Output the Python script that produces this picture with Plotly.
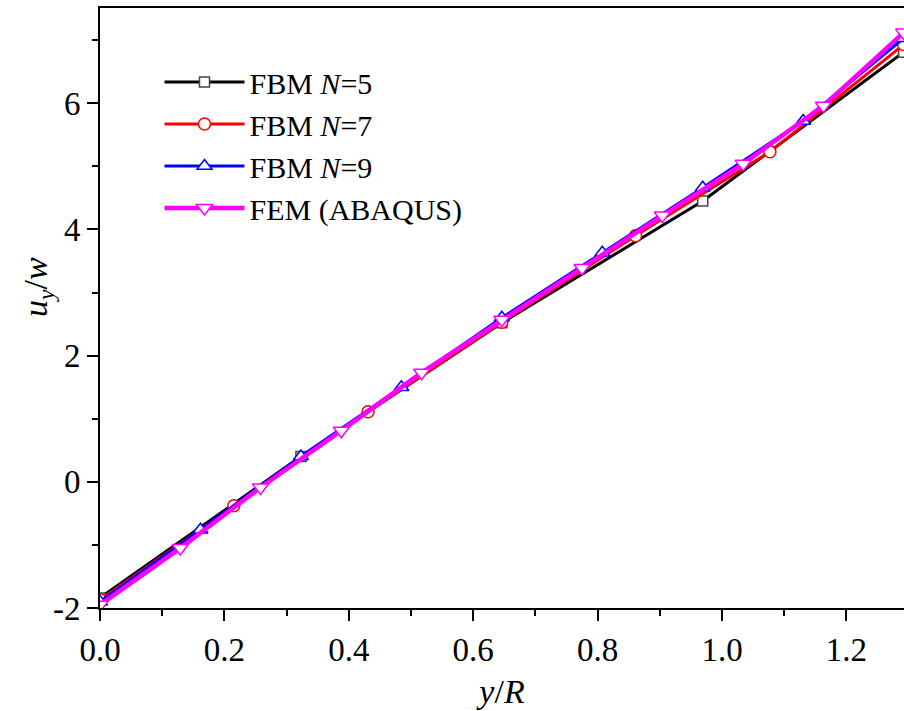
import plotly.graph_objects as go

# Data (y/R, u_y/w)
x_n5 = [0.0, 0.323, 0.646, 0.969, 1.292]
y_n5 = [-1.84, 0.40, 2.52, 4.45, 6.81]

x_n7 = [0.0, 0.215, 0.431, 0.646, 0.861, 1.077, 1.292]
y_n7 = [-1.87, -0.38, 1.11, 2.53, 3.90, 5.23, 6.93]

x_n9 = [0.0, 0.1615, 0.323, 0.4845, 0.646, 0.8075, 0.969, 1.1305, 1.292]
y_n9 = [-1.90, -0.76, 0.40, 1.50, 2.60, 3.63, 4.66, 5.72, 7.03]

x_fem = [0.0, 0.129, 0.258, 0.388, 0.517, 0.646, 0.775, 0.904, 1.034, 1.163, 1.292]
y_fem = [-1.95, -1.05, -0.09, 0.81, 1.73, 2.57, 3.39, 4.22, 5.04, 5.96, 7.12]

names = ["FBM <i>N</i>=5", "FBM <i>N</i>=7", "FBM <i>N</i>=9", "FEM (ABAQUS)"]

x_tickvals = [0.0, 0.2, 0.4, 0.6, 0.8, 1.0, 1.2]
x_ticktext = ["0.0", "0.2", "0.4", "0.6", "0.8", "1.0", "1.2"]
y_tickvals = [-2, 0, 2, 4, 6]
y_ticktext = ["-2", "0", "2", "4", "6"]

FONT = "Liberation Serif"

fig = go.Figure()

fig.add_trace(go.Scatter(
    x=x_n5, y=y_n5, name=names[0], mode="lines+markers",
    line=dict(color="black", width=3),
    marker=dict(symbol="square", size=10, color="white",
                line=dict(color="#444444", width=1.5)),
))
fig.add_trace(go.Scatter(
    x=x_n7, y=y_n7, name=names[1], mode="lines+markers",
    line=dict(color="#ff0000", width=3),
    marker=dict(symbol="circle", size=12, color="white",
                line=dict(color="#ff0000", width=1.5)),
))
fig.add_trace(go.Scatter(
    x=x_n9, y=y_n9, name=names[2], mode="lines+markers",
    line=dict(color="#0000ff", width=3),
    marker=dict(symbol="triangle-up", size=13, color="white",
                line=dict(color="#0000ff", width=1.5)),
))
fig.add_trace(go.Scatter(
    x=x_fem, y=y_fem, name=names[3], mode="lines+markers",
    line=dict(color="#ff00ff", width=4.5),
    marker=dict(symbol="triangle-down", size=14, color="white",
                line=dict(color="#ff00ff", width=1.5)),
))

fig.update_layout(
    width=904, height=711,
    margin=dict(l=100, r=0, t=8, b=103, autoexpand=False),
    paper_bgcolor="white", plot_bgcolor="white",
    font=dict(family=FONT, size=30, color="black"),
    showlegend=True,
    legend=dict(
        x=0.074, y=0.92, xanchor="left", yanchor="top",
        bgcolor="rgba(0,0,0,0)", borderwidth=0,
        font=dict(family=FONT, size=30, color="black"),
        itemwidth=80, tracegroupgap=0,
    ),
    xaxis=dict(
        range=[0.0, 1.2926], showgrid=False, zeroline=False, automargin=False,
        showline=True, linecolor="black", linewidth=2, mirror=True,
        ticks="outside", ticklen=11, tickwidth=2, tickcolor="black",
        tickvals=x_tickvals, ticktext=x_ticktext,
        tickfont=dict(family=FONT, size=33),
        minor=dict(ticks="outside", ticklen=6, tickwidth=2, dtick=0.1, tick0=0, tickcolor="black"),
        title=dict(text="<i>y</i>/<i>R</i>", font=dict(family=FONT, size=34), standoff=13),
    ),
    yaxis=dict(
        range=[-2.0, 7.51], showgrid=False, zeroline=False, automargin=False,
        showline=True, linecolor="black", linewidth=2, mirror=False,
        ticks="outside", ticklen=11, tickwidth=2, tickcolor="black",
        tickvals=y_tickvals, ticktext=y_ticktext,
        tickfont=dict(family=FONT, size=33),
        minor=dict(ticks="outside", ticklen=6, tickwidth=2, dtick=1, tick0=0, tickcolor="black"),
    ),
    annotations=[dict(
        text="<i>u</i><sub><i>y</i></sub>/<i>w</i>", textangle=-90,
        xref="paper", yref="paper", x=-0.077, y=0.535,
        xanchor="center", yanchor="middle", showarrow=False,
        font=dict(family=FONT, size=34, color="black"),
    )],
)

fig.write_html(
    "out.html",
    config={"displayModeBar": False},
    post_script="document.body.style.margin='0';document.body.style.overflow='hidden';",
)
